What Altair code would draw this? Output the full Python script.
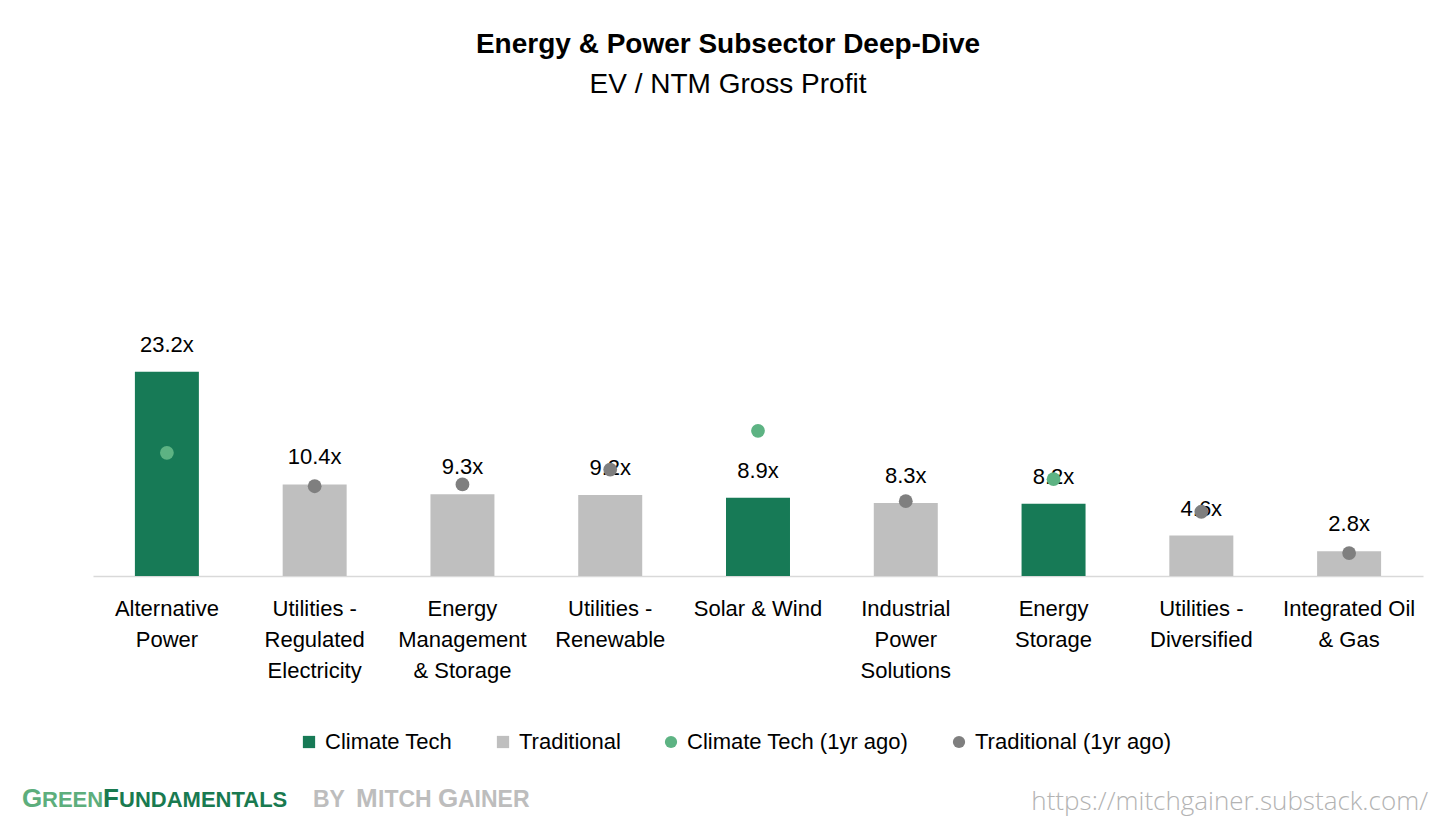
import altair as alt
import pandas as pd

categories = [
    "Alternative\nPower",
    "Utilities -\nRegulated\nElectricity",
    "Energy\nManagement\n& Storage",
    "Utilities -\nRenewable",
    "Solar & Wind",
    "Industrial\nPower\nSolutions",
    "Energy\nStorage",
    "Utilities -\nDiversified",
    "Integrated Oil\n& Gas",
]
current = [23.2, 10.4, 9.3, 9.2, 8.9, 8.3, 8.2, 4.6, 2.8]
year_ago = [14.0, 10.2, 10.4, 12.1, 16.5, 8.5, 11.0, 7.3, 2.6]
group = ["Climate Tech", "Traditional", "Traditional", "Traditional", "Climate Tech",
         "Traditional", "Climate Tech", "Traditional", "Traditional"]

series_names = ["Climate Tech", "Traditional", "Climate Tech (1yr ago)", "Traditional (1yr ago)"]
series_colors = ["#177A56", "#BFBFBF", "#5DB383", "#7F7F7F"]
series_shapes = ["square", "square", "circle", "circle"]

df = pd.DataFrame({
    "category": categories,
    "value": current,
    "prev": year_ago,
    "series": group,
    "series_prev": [g + " (1yr ago)" for g in group],
    "label": [f"{v:.1f}x" for v in current],
})

FONT = "Liberation Sans"

color_scale = alt.Scale(domain=series_names, range=series_colors)
shape_scale = alt.Scale(domain=series_names, range=series_shapes)
y_scale = alt.Scale(domain=[0, 30], nice=False)

x_enc = alt.X(
    "category:N",
    sort=None,
    title=None,
    scale=alt.Scale(paddingInner=0.567, paddingOuter=0.2835),
    axis=alt.Axis(
        labelExpr="split(datum.label, '\\n')",
        labelAngle=0,
        labelFont=FONT,
        labelFontSize=22,
        labelColor="#000000",
        labelLineHeight=31,
        labelBaseline="top",
        labelPadding=22,
        ticks=False,
        domainColor="#D9D9D9",
        domainWidth=1.5,
        grid=False,
    ),
)

base = alt.Chart(df)

bars = base.mark_bar().encode(
    x=x_enc,
    y=alt.Y("value:Q", scale=y_scale, axis=None),
    color=alt.Color("series:N", scale=color_scale, title=None),
)

labels = base.mark_text(font=FONT, fontSize=22, dy=-27, baseline="middle", color="#000000").encode(
    x=alt.X("category:N", sort=None),
    y=alt.Y("value:Q", scale=y_scale),
    text="label:N",
)

dots = base.mark_point(filled=True, opacity=1, size=190).encode(
    x=alt.X("category:N", sort=None),
    y=alt.Y("prev:Q", scale=y_scale),
    color=alt.Color("series_prev:N", scale=color_scale, title=None),
    shape=alt.Shape("series_prev:N", scale=shape_scale, title=None),
)

one = alt.InlineData(values=[{}])


def piece(txt, x, size, color, bold=True):
    return alt.Chart(one).mark_text(
        text=txt, font=FONT, fontSize=size, fontWeight="bold" if bold else "normal",
        color=color, align="left", baseline="alphabetic",
    ).encode(x=alt.value(x - 93), y=alt.value(807 - 312))


LG = "#5DAE7C"
DG = "#197A50"
GR = "#BDBDBD"
footer = [
    piece("G", 22, 26, LG),
    piece("REEN", 42, 22, LG),
    piece("F", 103, 26, DG),
    piece("UNDAMENTALS", 119, 22, DG),
    piece("BY", 313, 23, GR),
    piece("M", 356, 26, GR),
    piece("ITCH", 378, 23, GR),
    piece("G", 438, 26, GR),
    piece("AINER", 458, 23, GR),
]

url = alt.Chart(one).mark_text(
    text="https://mitchgainer.substack.com/", font="Open Sans", fontSize=26, fontWeight=300,
    color="#B3B3B3", align="right", baseline="alphabetic",
).encode(x=alt.value(1428 - 93), y=alt.value(810 - 312))

chart = alt.layer(bars, labels, dots, *footer, url).properties(
    width=1330,
    height=264,
    padding={"left": 85, "top": 304, "right": 25, "bottom": 241},
    autosize=alt.AutoSizeParams(type="none"),
    title=alt.Title(
        "Energy & Power Subsector Deep-Dive",
        subtitle="EV / NTM Gross Profit",
        anchor="middle",
        dx=-30,
        offset=213,
        font=FONT,
        fontSize=28,
        fontWeight="bold",
        color="#000000",
        subtitleFont=FONT,
        subtitleFontSize=28,
        subtitleColor="#000000",
        subtitlePadding=12,
    ),
).configure_view(stroke=None).configure_legend(
    orient="none",
    legendX=205,
    legendY=419,
    direction="horizontal",
    labelFont=FONT,
    labelFontSize=22,
    labelColor="#000000",
    labelLimit=0,
    symbolSize=150,
    symbolStrokeWidth=0,
    symbolOpacity=1,
    columnPadding=39,
    labelOffset=5,
    padding=0,
)

chart.save("out.html", embed_options={"renderer": "svg", "actions": False})
